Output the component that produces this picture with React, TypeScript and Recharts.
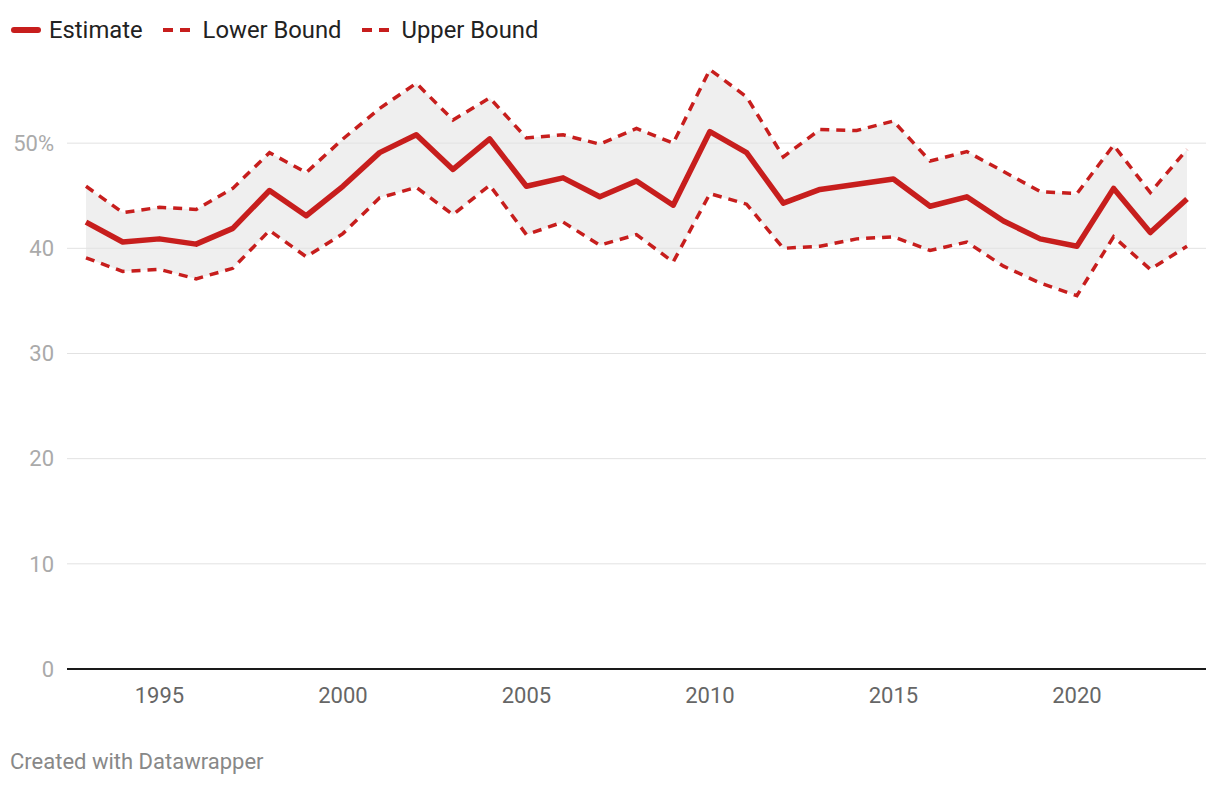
import React from 'react';
import { ComposedChart, Line, Area, XAxis, YAxis, ReferenceLine } from 'recharts';

const years = [
  1993, 1994, 1995, 1996, 1997, 1998, 1999, 2000, 2001, 2002, 2003, 2004, 2005, 2006, 2007, 2008,
  2009, 2010, 2011, 2012, 2013, 2014, 2015, 2016, 2017, 2018, 2019, 2020, 2021, 2022, 2023,
];
const estimate = [
  42.5, 40.6, 40.9, 40.4, 41.9, 45.5, 43.1, 45.9, 49.1, 50.8, 47.5, 50.4, 45.9, 46.7, 44.9, 46.4,
  44.1, 51.1, 49.1, 44.3, 45.6, 46.1, 46.6, 44.0, 44.9, 42.6, 40.9, 40.2, 45.7, 41.5, 44.7,
];
const lowerBound = [
  39.1, 37.8, 38.0, 37.1, 38.1, 41.7, 39.2, 41.4, 44.8, 45.8, 43.2, 46.0, 41.3, 42.5, 40.3, 41.3,
  38.7, 45.2, 44.2, 40.0, 40.2, 40.9, 41.1, 39.8, 40.6, 38.3, 36.7, 35.5, 41.1, 38.0, 40.2,
];
const upperBound = [
  45.9, 43.4, 43.9, 43.7, 45.7, 49.1, 47.2, 50.4, 53.3, 55.7, 52.2, 54.3, 50.5, 50.8, 49.9, 51.4,
  50.0, 57.0, 54.4, 48.7, 51.3, 51.2, 52.1, 48.3, 49.2, 47.3, 45.4, 45.2, 49.8, 45.3, 49.4,
];
const xTicks = [1995, 2000, 2005, 2010, 2015, 2020];
const yTicks = [0, 10, 20, 30, 40, 50];

const RED = '#c71e1d';

const data = years.map((year, i) => ({
  year,
  estimate: estimate[i],
  lower: lowerBound[i],
  upper: upperBound[i],
  range: [lowerBound[i], upperBound[i]],
}));

const LegendItem = ({ label, dashed, gap }: { label: string; dashed?: boolean; gap: number }) => (
  <div style={{ display: 'flex', alignItems: 'center' }}>
    <svg width={dashed ? 28 : 30} height={8} style={{ marginRight: gap }}>
      {dashed ? (
        <line x1={0} y1={4} x2={28} y2={4} stroke={RED} strokeWidth={4} strokeDasharray="10 7" />
      ) : (
        <line x1={3} y1={4} x2={27} y2={4} stroke={RED} strokeWidth={6} strokeLinecap="round" />
      )}
    </svg>
    <span>{label}</span>
  </div>
);

export default function App() {
  return (
    <div
      style={{
        position: 'absolute',
        left: 0,
        top: 0,
        width: 1220,
        height: 786,
        background: '#fff',
        fontFamily: 'Roboto, sans-serif',
      }}
    >
      <div
        style={{
          position: 'absolute',
          left: 11,
          top: 15,
          display: 'flex',
          gap: 20,
          fontSize: 23.8,
          color: '#222',
          lineHeight: '30px',
        }}
      >
        <LegendItem label="Estimate" gap={8} />
        <LegendItem label="Lower Bound" dashed gap={12} />
        <LegendItem label="Upper Bound" dashed gap={12} />
      </div>

      <div style={{ position: 'absolute', left: 0, top: 0 }}>
        <ComposedChart width={1220} height={786} data={data} margin={{ top: 38, right: 14, left: 0, bottom: 77 }}>
          <XAxis
            type="number"
            dataKey="year"
            domain={[1993, 2023]}
            ticks={xTicks}
            padding={{ left: 19, right: 19 }}
            axisLine={{ stroke: '#1a1a1a', strokeWidth: 2 }}
            tickLine={false}
            tickSize={0}
            tickMargin={18}
            height={40}
            tick={{ fill: '#666', fontSize: 22 }}
          />
          <YAxis
            type="number"
            domain={[0, 60]}
            ticks={yTicks}
            width={67}
            axisLine={false}
            tickLine={false}
            tickSize={0}
            tickMargin={13}
            tick={{ fill: '#aaa', fontSize: 22 }}
            tickFormatter={(v: number) => (v === 50 ? '50%' : String(v))}
          />
          <Area
            type="linear"
            dataKey="range"
            fill="#efefef"
            fillOpacity={1}
            stroke="none"
            isAnimationActive={false}
            activeDot={false}
          />
          {yTicks
            .filter((t) => t > 0)
            .map((t) => (
              <ReferenceLine key={t} y={t} stroke="#e2e2e2" strokeWidth={1} />
            ))}
          <Line
            type="linear"
            dataKey="lower"
            stroke={RED}
            strokeWidth={3.5}
            strokeDasharray="9 7"
            dot={false}
            activeDot={false}
            isAnimationActive={false}
          />
          <Line
            type="linear"
            dataKey="upper"
            stroke={RED}
            strokeWidth={3.5}
            strokeDasharray="9 7"
            dot={false}
            activeDot={false}
            isAnimationActive={false}
          />
          <Line
            type="linear"
            dataKey="estimate"
            stroke={RED}
            strokeWidth={5.5}
            strokeLinejoin="round"
            dot={false}
            activeDot={false}
            isAnimationActive={false}
          />
        </ComposedChart>
      </div>

      <div style={{ position: 'absolute', left: 10, top: 749, fontSize: 22, color: '#888' }}>
        Created with Datawrapper
      </div>
    </div>
  );
}
